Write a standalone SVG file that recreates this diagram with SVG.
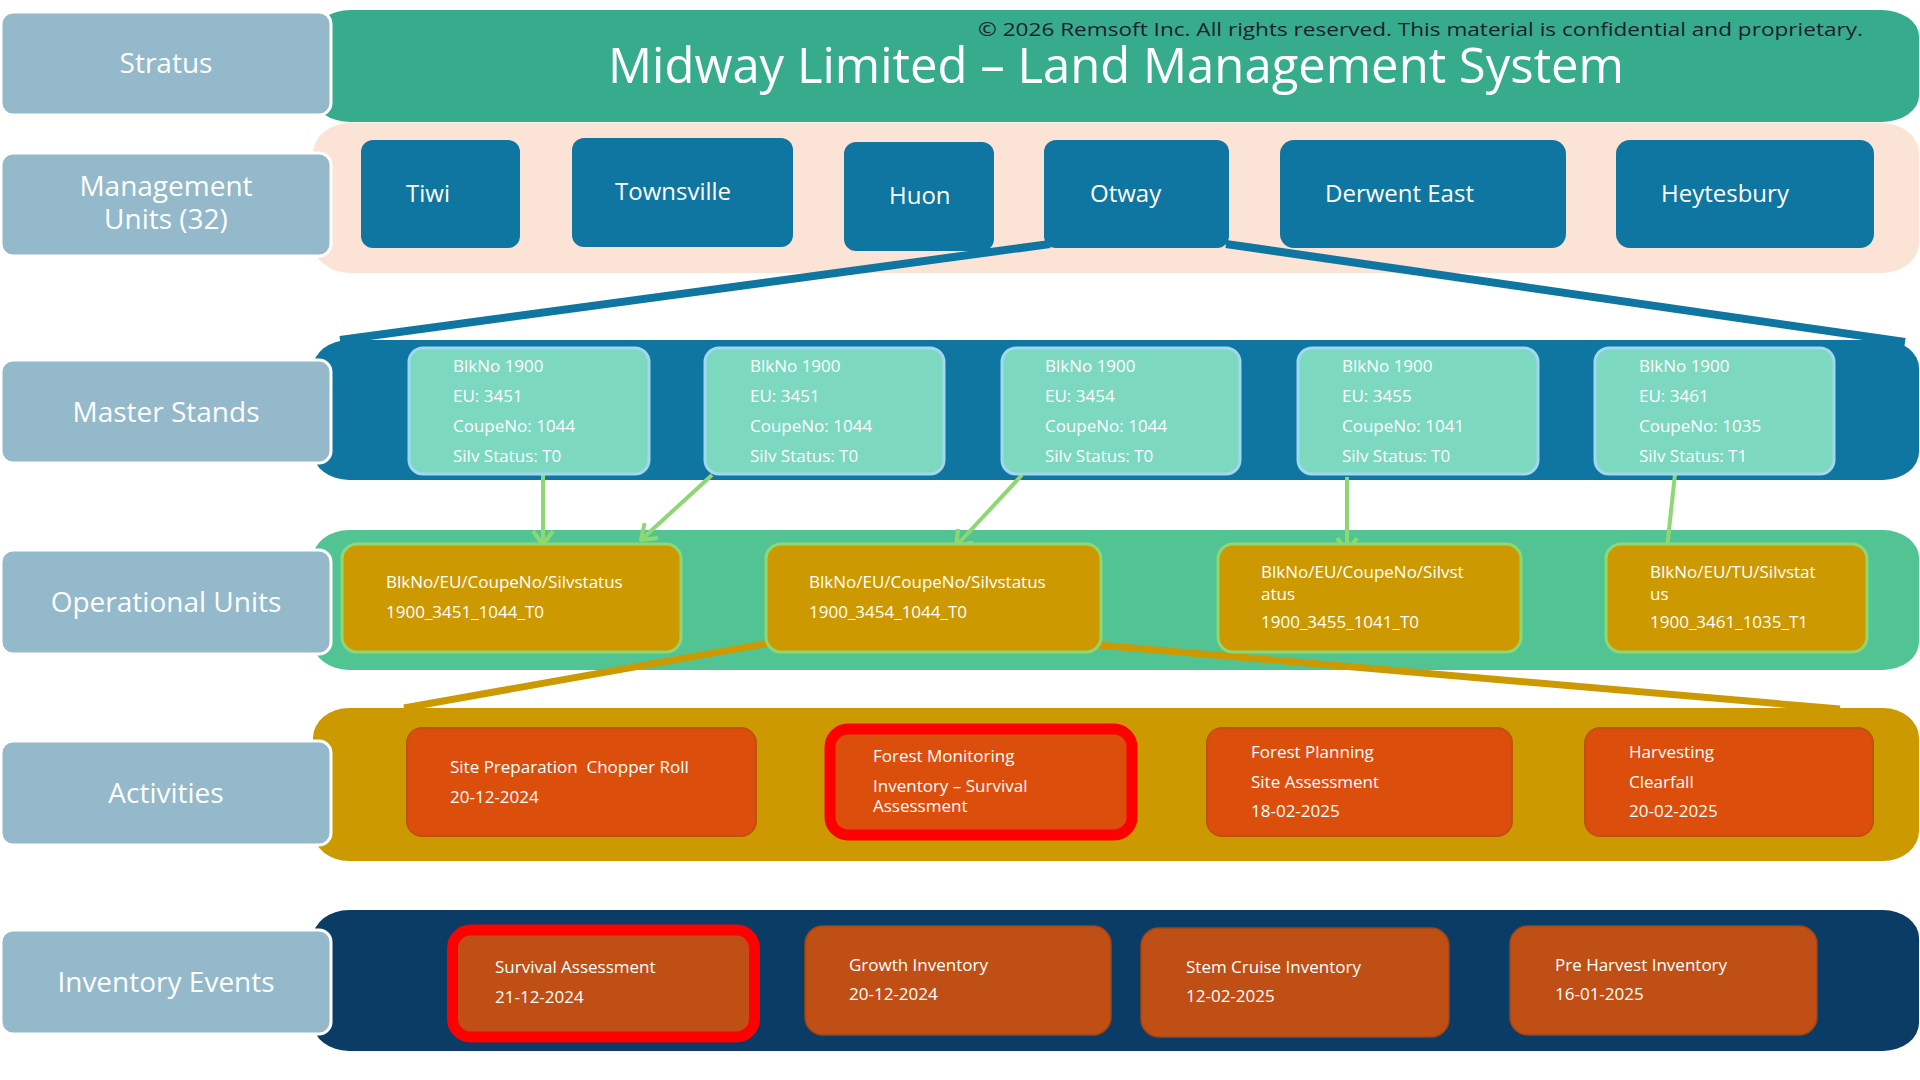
<svg xmlns="http://www.w3.org/2000/svg" width="1920" height="1080" viewBox="0 0 1920 1080">
<defs>
<style>
.lbl{fill:#93B9CB;stroke:#ffffff;stroke-width:3}
.lt{font-family:"Open Sans","Liberation Sans",sans-serif;font-size:28px;fill:#ffffff;text-anchor:middle}
.mu{fill:#0E76A0}
.mt{font-family:"Open Sans","Liberation Sans",sans-serif;font-size:24px;fill:#ffffff}
.t{font-family:"Open Sans","Liberation Sans",sans-serif;font-size:17px;fill:#ffffff;white-space:pre}
.st{fill:#7DD8C0;stroke:#A0D8F0;stroke-width:3}
.ou{fill:#CC9900;stroke:#8DD873;stroke-width:3}
.ac{fill:#DC4E0B;stroke:#C0520F;stroke-width:2}
.iv{fill:#BF4F14;stroke:#A04514;stroke-width:1.5}
.hl{stroke:#FF0000;stroke-width:11}
.ga{stroke:#8DD873;stroke-width:4;fill:none;marker-end:url(#chev)}
</style>
<marker id="chev" markerUnits="userSpaceOnUse" viewBox="-16 -12 18 24" markerWidth="18" markerHeight="24" refX="0" refY="0" orient="auto">
<path d="M-14,-10 L0,0 L-14,10" fill="none" stroke="#8DD873" stroke-width="4"/>
</marker>
</defs>
<rect width="1920" height="1080" fill="#ffffff"/>

<g id="bands">
<rect x="313" y="10" width="1606" height="112" rx="38" ry="26" fill="#36AC8C"/>
<rect x="313" y="123" width="1606" height="150" rx="38" ry="30" fill="#FBE3D6"/>
<rect x="313" y="340" width="1606" height="140" rx="36" ry="28" fill="#0E76A0"/>
<rect x="313" y="530" width="1606" height="140" rx="36" ry="28" fill="#52C493"/>
<rect x="313" y="708" width="1606" height="153" rx="36" ry="30" fill="#CC9900"/>
<rect x="313" y="910" width="1606" height="141" rx="36" ry="28" fill="#0A3C65"/>
</g>

<g id="title">
<text x="1116" y="83" font-family="'Open Sans','Liberation Sans',sans-serif" font-size="49" fill="#ffffff" text-anchor="middle">Midway Limited – Land Management System</text>
<text x="978" y="36" font-family="'Open Sans','Liberation Sans',sans-serif" font-size="19" fill="#1E1E2E" textLength="885" lengthAdjust="spacingAndGlyphs">© 2026 Remsoft Inc. All rights reserved. This material is confidential and proprietary.</text>
</g>

<g id="label-stratus"><rect class="lbl" x="1" y="12" width="330" height="103" rx="12"/><text class="lt" x="166" y="73">Stratus</text></g>
<g id="label-mu"><rect class="lbl" x="1" y="153" width="330" height="103" rx="12"/><text class="lt" x="166" y="196">Management</text><text class="lt" x="166" y="229">Units (32)</text></g>
<g id="label-ms"><rect class="lbl" x="1" y="360" width="330" height="103" rx="12"/><text class="lt" x="166" y="422">Master Stands</text></g>
<g id="label-ou"><rect class="lbl" x="1" y="550" width="330" height="104" rx="12"/><text class="lt" x="166" y="612">Operational Units</text></g>
<g id="label-act"><rect class="lbl" x="1" y="741" width="330" height="104" rx="12"/><text class="lt" x="166" y="803">Activities</text></g>
<g id="label-inv"><rect class="lbl" x="1" y="930" width="330" height="104" rx="12"/><text class="lt" x="166" y="992">Inventory Events</text></g>

<g id="connectors">
<line x1="1050" y1="244" x2="340" y2="340" stroke="#0E76A0" stroke-width="8"/>
<line x1="1226" y1="244" x2="1905" y2="342" stroke="#0E76A0" stroke-width="8"/>
<line x1="770" y1="643" x2="404" y2="708" stroke="#CC9900" stroke-width="7"/>
<line x1="1098" y1="645" x2="1840" y2="709" stroke="#CC9900" stroke-width="7"/>
<line class="ga" x1="543" y1="475" x2="543" y2="545"/>
<line class="ga" x1="712" y1="475" x2="641" y2="540"/>
<line class="ga" x1="1022" y1="475" x2="956" y2="546"/>
<line class="ga" x1="1347" y1="477" x2="1347" y2="552"/>
<line class="ga" x1="1675" y1="474" x2="1666" y2="558"/>
</g>

<g id="mu-tiwi"><rect class="mu" x="361" y="140" width="159" height="108" rx="12"/><text class="mt" x="406" y="202">Tiwi</text></g>
<g id="mu-townsville"><rect class="mu" x="572" y="138" width="221" height="109" rx="12"/><text class="mt" x="615" y="200">Townsville</text></g>
<g id="mu-huon"><rect class="mu" x="844" y="142" width="150" height="109" rx="12"/><text class="mt" x="889" y="204">Huon</text></g>
<g id="mu-otway"><rect class="mu" x="1044" y="140" width="185" height="108" rx="12"/><text class="mt" x="1090" y="202">Otway</text></g>
<g id="mu-derwent"><rect class="mu" x="1280" y="140" width="286" height="108" rx="14"/><text class="mt" x="1325" y="202">Derwent East</text></g>
<g id="mu-heytesbury"><rect class="mu" x="1616" y="140" width="258" height="108" rx="14"/><text class="mt" x="1661" y="202">Heytesbury</text></g>

<g id="ms-1"><rect class="st" x="409" y="348" width="240" height="126" rx="14"/><text class="t" x="453" y="372">BlkNo 1900</text><text class="t" x="453" y="402">EU: 3451</text><text class="t" x="453" y="432">CoupeNo: 1044</text><text class="t" x="453" y="462">Silv Status: T0</text></g>
<g id="ms-2"><rect class="st" x="705" y="348" width="239" height="126" rx="14"/><text class="t" x="750" y="372">BlkNo 1900</text><text class="t" x="750" y="402">EU: 3451</text><text class="t" x="750" y="432">CoupeNo: 1044</text><text class="t" x="750" y="462">Silv Status: T0</text></g>
<g id="ms-3"><rect class="st" x="1002" y="348" width="238" height="126" rx="14"/><text class="t" x="1045" y="372">BlkNo 1900</text><text class="t" x="1045" y="402">EU: 3454</text><text class="t" x="1045" y="432">CoupeNo: 1044</text><text class="t" x="1045" y="462">Silv Status: T0</text></g>
<g id="ms-4"><rect class="st" x="1298" y="348" width="240" height="126" rx="14"/><text class="t" x="1342" y="372">BlkNo 1900</text><text class="t" x="1342" y="402">EU: 3455</text><text class="t" x="1342" y="432">CoupeNo: 1041</text><text class="t" x="1342" y="462">Silv Status: T0</text></g>
<g id="ms-5"><rect class="st" x="1595" y="348" width="239" height="126" rx="14"/><text class="t" x="1639" y="372">BlkNo 1900</text><text class="t" x="1639" y="402">EU: 3461</text><text class="t" x="1639" y="432">CoupeNo: 1035</text><text class="t" x="1639" y="462">Silv Status: T1</text></g>

<g id="ou-1"><rect class="ou" x="342" y="544" width="339" height="108" rx="15"/><text class="t" x="386" y="588">BlkNo/EU/CoupeNo/Silvstatus</text><text class="t" x="386" y="618">1900_3451_1044_T0</text></g>
<g id="ou-2"><rect class="ou" x="766" y="544" width="335" height="108" rx="15"/><text class="t" x="809" y="588">BlkNo/EU/CoupeNo/Silvstatus</text><text class="t" x="809" y="618">1900_3454_1044_T0</text></g>
<g id="ou-3"><rect class="ou" x="1218" y="544" width="303" height="108" rx="15"/><text class="t" x="1261" y="578">BlkNo/EU/CoupeNo/Silvst</text><text class="t" x="1261" y="600">atus</text><text class="t" x="1261" y="628">1900_3455_1041_T0</text></g>
<g id="ou-4"><rect class="ou" x="1606" y="544" width="261" height="108" rx="15"/><text class="t" x="1650" y="578">BlkNo/EU/TU/Silvstat</text><text class="t" x="1650" y="600">us</text><text class="t" x="1650" y="628">1900_3461_1035_T1</text></g>

<g id="act-1"><rect class="ac" x="407" y="728" width="349" height="108" rx="15"/><text class="t" x="450" y="773">Site Preparation  Chopper Roll</text><text class="t" x="450" y="803">20-12-2024</text></g>
<g id="act-2"><rect class="ac hl" x="830" y="729" width="302" height="106" rx="18"/><text class="t" x="873" y="762">Forest Monitoring</text><text class="t" x="873" y="792">Inventory – Survival</text><text class="t" x="873" y="812">Assessment</text></g>
<g id="act-3"><rect class="ac" x="1207" y="728" width="305" height="108" rx="15"/><text class="t" x="1251" y="758">Forest Planning</text><text class="t" x="1251" y="788">Site Assessment</text><text class="t" x="1251" y="817">18-02-2025</text></g>
<g id="act-4"><rect class="ac" x="1585" y="728" width="288" height="108" rx="15"/><text class="t" x="1629" y="758">Harvesting</text><text class="t" x="1629" y="788">Clearfall</text><text class="t" x="1629" y="817">20-02-2025</text></g>

<g id="inv-1"><rect class="iv hl" x="452.5" y="930" width="302" height="107" rx="18"/><text class="t" x="495" y="973">Survival Assessment</text><text class="t" x="495" y="1003">21-12-2024</text></g>
<g id="inv-2"><rect class="iv" x="805" y="926" width="306" height="109" rx="18"/><text class="t" x="849" y="971">Growth Inventory</text><text class="t" x="849" y="1000">20-12-2024</text></g>
<g id="inv-3"><rect class="iv" x="1141" y="928" width="308" height="109" rx="18"/><text class="t" x="1186" y="973">Stem Cruise Inventory</text><text class="t" x="1186" y="1002">12-02-2025</text></g>
<g id="inv-4"><rect class="iv" x="1510" y="926" width="307" height="109" rx="18"/><text class="t" x="1555" y="971">Pre Harvest Inventory</text><text class="t" x="1555" y="1000">16-01-2025</text></g>
</svg>
